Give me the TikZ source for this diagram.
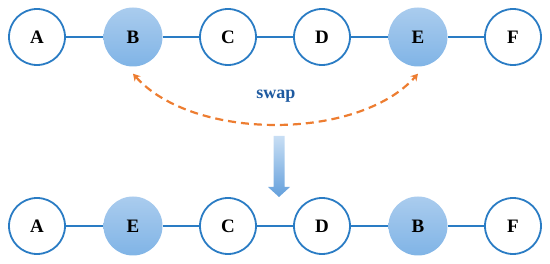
\documentclass[tikz,border=0pt]{standalone}
\usepackage{fontspec}
\setmainfont{Liberation Serif}
\usetikzlibrary{arrows.meta}
\definecolor{lineblue}{RGB}{42,124,196}
\definecolor{filltop}{RGB}{170,204,238}
\definecolor{fillbot}{RGB}{128,180,230}
\definecolor{swaporange}{RGB}{237,125,49}
\definecolor{swapblue}{RGB}{30,90,160}
\definecolor{arrtop}{RGB}{200,222,244}
\definecolor{arrbot}{RGB}{100,160,220}
\tikzset{
  plain/.style={circle, draw=lineblue, line width=1.8pt, fill=white, minimum size=56pt, inner sep=0pt, font=\fontsize{19}{22}\selectfont\bfseries},
  hilite/.style={circle, top color=filltop, bottom color=fillbot, draw=none, minimum size=59pt, inner sep=0pt, font=\fontsize{19}{22}\selectfont\bfseries},
  link/.style={draw=lineblue, line width=1.6pt},
  swaparrow/.style={draw=swaporange, line width=2.2pt, dash pattern=on 8pt off 5pt, {Stealth[length=7pt,width=8pt]}-{Stealth[length=7pt,width=8pt]}},
}
\begin{document}
\begin{tikzpicture}[x=1pt,y=-1pt]
\useasboundingbox (0,0) rectangle (550,264);
% top row
\node[plain]  (A1) at (37,37) {A};
\node[hilite] (B1) at (133,37) {B};
\node[plain]  (C1) at (228,37) {C};
\node[plain]  (D1) at (322,37) {D};
\node[hilite] (E1) at (418,37) {E};
\node[plain]  (F1) at (513,37) {F};
\draw[link] (A1) -- (B1);
\draw[link] (B1) -- (C1);
\draw[link] (C1) -- (D1);
\draw[link] (D1) -- (E1);
\draw[link] (E1) -- (F1);
% swap arrow
\draw[swaparrow] ([yshift=-7pt]B1.south) .. controls (193,141) and (358,141) .. ([yshift=-7pt]E1.south);
\node[text=swapblue, font=\fontsize{18}{21}\selectfont\bfseries] (swap) at (276,96) {swap};
% down arrow
\shade[top color=arrtop, bottom color=arrbot]
  (273.5,136) -- (284.5,136) -- (284.5,187) -- (290,187) -- (279,197) -- (268,187) -- (273.5,187) -- cycle;
% bottom row
\node[plain]  (A2) at (37,226) {A};
\node[hilite] (E2) at (133,226) {E};
\node[plain]  (C2) at (228,226) {C};
\node[plain]  (D2) at (322,226) {D};
\node[hilite] (B2) at (418,226) {B};
\node[plain]  (F2) at (513,226) {F};
\draw[link] (A2) -- (E2);
\draw[link] (E2) -- (C2);
\draw[link] (C2) -- (D2);
\draw[link] (D2) -- (B2);
\draw[link] (B2) -- (F2);
\end{tikzpicture}
\end{document}
